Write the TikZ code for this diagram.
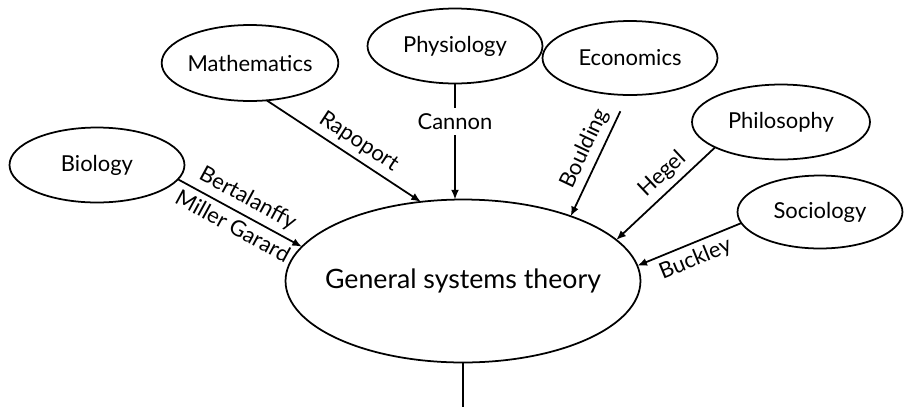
\documentclass[tikz,border=0pt]{standalone}
\usepackage{fontspec}
\setmainfont{Lato}
\usetikzlibrary{shapes.geometric,arrows.meta}

\tikzset{
  field/.style={ellipse, draw, line width=1pt, inner sep=0pt, outer sep=0pt,
    minimum width=3.5cm, minimum height=1.5cm, font=\fontsize{12.5}{14}\selectfont},
  link/.style={line width=1pt, -{Latex[length=5.5pt,width=4.5pt]}},
  who/.style={font=\fontsize{12.5}{14}\selectfont, sloped, inner sep=3pt}
}

\begin{document}
\begin{tikzpicture}[x=0.02cm, y=-0.02cm]
\useasboundingbox (0,0) rectangle (904,407);

% The fields round the top
\node[field] (bio) at (97,165) {Biology};
\node[field, minimum height=1.52cm] (math) at (250,63) {Mathematics};
\node[field] (phys) at (455,46) {Physiology};
\node[field, minimum height=1.48cm] (econ) at (630,58) {Economics};
\node[field, minimum width=3.56cm] (phil) at (781,122) {Philosophy};
\node[field, minimum width=3.3cm, minimum height=1.46cm] (soc) at (820,212) {Sociology};

% The theory in the middle
\node[field, minimum width=7.1cm, minimum height=3.26cm, inner xsep=-3em,
  font=\fontsize{15.2}{17}\selectfont] (gst) at (463,281) {General systems theory};

% The links and their names
\draw[link] (bio.-10) -- node[who, above] {Bertalanffy}
  node[who, below] {Miller Garard} (gst.168);
\draw[link] (math.-66) -- node[who, above, pos=0.54] {Rapoport} (gst.118);
\draw[link] (phys.south) -- node[fill=white, inner sep=3pt, pos=0.33,
  font=\fontsize{12.5}{14}\selectfont] {Cannon} (phys.south |- gst.north);
\draw[link, shorten <=0.36cm] (econ.-93) -- node[who, above] {Boulding} (gst.31);
\draw[link] (phil.201) -- node[who, above, pos=0.42] {Hegel} (gst.15);
\draw[link] (soc.188) -- node[who, below, pos=0.5] {Buckley} (gst.5);

% The line going on below
\coordinate (foot) at (463,407);
\draw[line width=1pt] (gst.south) -- (foot);

\end{tikzpicture}
\end{document}
